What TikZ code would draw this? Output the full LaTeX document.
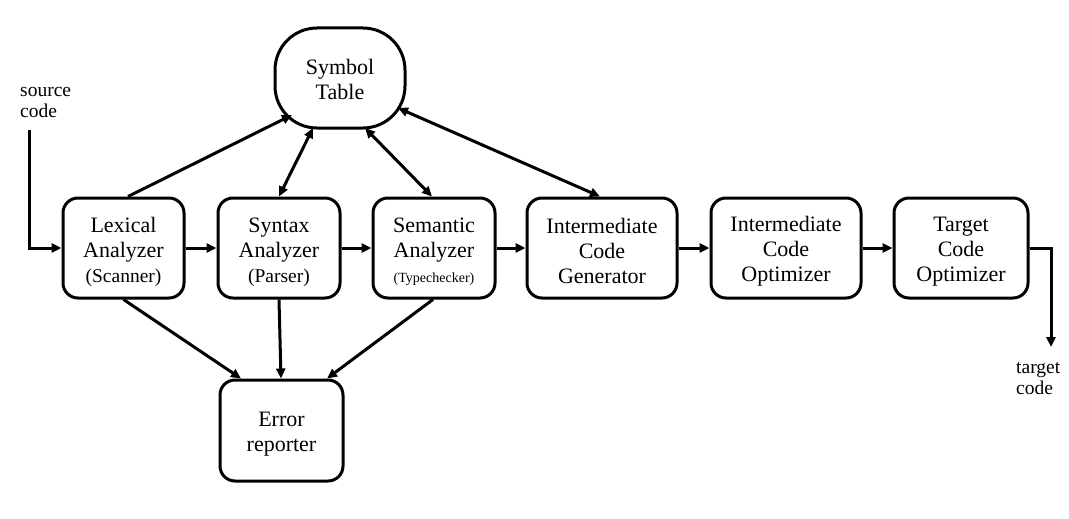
\documentclass[tikz,border=0pt]{standalone}
\usepackage{fontspec}
\setmainfont{Liberation Serif}
\usetikzlibrary{arrows.meta,calc}
\begin{document}
\begin{tikzpicture}[x=1pt,y=-1pt,
  stage/.style={draw, line width=3pt, rounded corners=15pt, inner sep=0pt, minimum height=100pt},
  txt/.style={align=center, font=\fontsize{22}{25}\selectfont, inner sep=0pt},
  conn/.style={line width=3pt, -{Triangle[length=10pt,width=9pt]}},
  dconn/.style={line width=3pt, {Triangle[length=10pt,width=9pt]}-{Triangle[length=10pt,width=9pt]}},
  lbl/.style={align=left, font=\fontsize{19.5}{21}\selectfont, inner sep=0pt}
]
\useasboundingbox (0,0) rectangle (1069,519);

\node[stage, minimum width=121pt] (lex) at (123.5,248) {};
\node[stage, minimum width=122pt] (syn) at (279,248) {};
\node[stage, minimum width=122pt] (sem) at (434,248) {};
\node[stage, minimum width=150pt] (ig) at (602,248) {};
\node[stage, minimum width=150pt] (io) at (786,248) {};
\node[stage, minimum width=134pt] (tgt) at (961,248) {};
\node[stage, minimum width=123pt, minimum height=101pt] (err) at (281.5,430.5) {};
\node[stage, rounded corners=42pt, minimum width=130pt] (sym) at (340,78) {};

\node[txt] (lexT) at ($(lex.center)+(0,4)$)
  {Lexical\\Analyzer\\{\fontsize{19.5}{22}\selectfont (Scanner)}};
\node[txt] (synT) at ($(syn.center)+(0,4)$)
  {Syntax\\Analyzer\\{\fontsize{19.5}{22}\selectfont (Parser)}};
\node[txt] (semT) at ($(sem.center)+(0,4)$)
  {Semantic\\Analyzer\\{\fontsize{14}{20}\selectfont (Typechecker)}};
\node[txt] (igT) at ($(ig.center)+(0,3)$) {Intermediate\\Code\\Generator};
\node[txt] (ioT) at ($(io.center)+(0,3)$) {Intermediate\\Code\\Optimizer};
\node[txt] (tgtT) at ($(tgt.center)+(0,4)$) {Target\\Code\\Optimizer};
\node[txt] (errT) at ($(err.center)+(0,4)$) {Error\\reporter};
\node[txt] (symT) at ($(sym.center)+(0,1)$) {Symbol\\Table};

\node[lbl, anchor=west] (srclbl) at (20,103) {source\\code};
\node[lbl, anchor=west] (tgtlbl) at (1016,379) {target\\code};
\coordinate (srcstart) at (29,130);
\coordinate (outend) at (1051,347);

% main pipeline
\draw[conn] (srcstart) |- (lex.west);
\draw[conn] (lex.east) -- (syn.west);
\draw[conn] (syn.east) -- (sem.west);
\draw[conn] (sem.east) -- (ig.west);
\draw[conn] (ig.east) -- (io.west);
\draw[conn] (io.east) -- (tgt.west);
\draw[conn] (tgt.east) -| (outend);

% symbol table
\draw[conn] ($(lex.north)+(4.5,0)$) -- ($(sym.center)+(-48,37)$);
\draw[dconn] (syn.north) -- ($(sym.center)+(-27,50)$);
\draw[dconn] ($(sem.north)+(-2,0)$) -- ($(sym.center)+(25,50)$);
\draw[dconn] ($(ig.north)+(-2,0)$) -- ($(sym.center)+(58,30)$);

% error reporter
\draw[conn] (lex.south) -- ($(err.north)+(-40.5,0)$);
\draw[conn] (syn.south) -- ($(err.north)+(-0.5,0)$);
\draw[conn] ($(sem.south)+(-1,0)$) -- ($(err.north)+(45.5,0)$);
\end{tikzpicture}
\end{document}
